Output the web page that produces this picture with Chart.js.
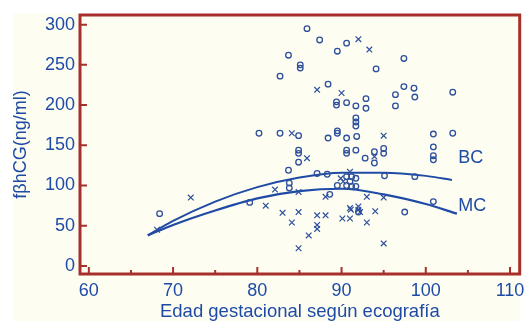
<!DOCTYPE html>
<html>
<head>
<meta charset="utf-8">
<script src="https://cdn.jsdelivr.net/npm/chart.js@4"></script>
<style>
  html, body { margin: 0; padding: 0; background: #ffffff; overflow: hidden; }
  #wrap { width: 525px; height: 321px; }
</style>
</head>
<body>
<div id="wrap"><canvas id="scatterChart"></canvas></div>
<script>
// data
var circX = [85.9, 87.4, 90.6, 89.5, 83.7, 85.1, 85.1, 82.7, 88.4, 89.4, 89.4, 90.6, 91.7, 92.9, 92.9,
  91.7, 91.7, 91.7, 94.1, 97.4, 97.4, 98.6, 98.7, 96.4, 96.4, 103.2, 80.2, 82.7, 84.9, 88.4,
  89.5, 89.5, 90.6, 91.8, 100.9, 103.2, 100.9, 100.9, 100.9, 90.6, 90.6, 91.7, 92.8, 93.9, 93.9,
  95.0, 95.0, 95.1, 98.7, 97.5, 100.9, 84.9, 84.9, 84.9, 83.7, 87.1, 88.3, 90.6, 91.2, 91.7,
  89.5, 90.6, 91.2, 91.7, 91.0, 83.8, 83.8, 88.6, 79.1, 92.0, 68.4];
var circY = [295, 281, 277, 267, 262, 250, 246, 236, 226, 204, 200, 203, 199, 208, 196,
  184, 179, 174, 245, 258, 223, 221, 210, 213, 199, 216, 165, 165, 162, 159,
  165, 168, 159, 161, 164, 165, 148, 137, 132, 144, 140, 144, 134, 142, 128,
  146, 140, 112, 111, 67, 80, 144, 140, 129, 119, 115, 114, 111, 111, 109,
  100, 100, 99, 99, 105, 103, 97, 89, 79, 67, 65];

var crossX = [92.0, 93.3, 87.1, 90.0, 84.1, 95.0, 85.9, 93.9, 89.9, 91.0, 90.2, 82.1, 84.9, 88.1,
  81.0, 83.0, 84.9, 87.1, 88.1, 84.1, 87.1, 87.1, 86.1, 84.9, 90.1, 91.0, 91.0, 92.0, 92.2,
  93.0, 95.0, 94.0, 93.0, 95.0, 72.1, 68.1, 91.1, 92.0];
var crossY = [282, 269, 219, 215, 165, 162, 134, 136, 109, 117, 105, 95, 92, 86,
  75, 66, 67, 63, 63, 54, 51, 46, 38, 22, 59, 59, 72, 74, 67,
  86, 85, 68, 54, 28, 85, 45, 70, 70];

// fitted curves, points
var bcX = [67, 70, 75, 80, 85, 90, 95, 100, 103.1];
var bcY = [38, 56, 80, 98, 110, 116, 116, 112, 107];
var mcX = [67, 70, 75, 80, 85, 90, 95, 100, 103.7];
var mcY = [38, 51, 69, 84, 93, 96, 89, 77, 65];

var curveLabels = ['BC', 'MC'];
var curveLabelX = [103.85, 103.85];
var curveLabelY = [134, 74];

var xTicks = [60, 70, 80, 90, 100, 110];
var xMinorTicks = [65, 75, 85, 95, 105];
var yTicks = [0, 50, 100, 150, 200, 250, 300];

var blue = '#1f4ba6';
var markBlue = '#2d4f9c';
var frameRed = '#a8302c';
var cream = '#fdfdf1';

function pts(xs, ys) {
  return xs.map(function (x, i) { return { x: x, y: ys[i] }; });
}

var framePlugin = {
  id: 'frame',
  beforeDraw: function (chart) {
    var c = chart.ctx;
    c.save();
    c.fillStyle = '#ffffff';
    c.fillRect(0, 0, chart.width, chart.height);
    c.fillStyle = cream;
    c.fillRect(13, 13, chart.chartArea.right - 13, chart.height - 13);
    c.restore();
  },
  afterDraw: function (chart) {
    var c = chart.ctx, a = chart.chartArea;
    var xs = chart.scales.x, ys = chart.scales.y;
    c.save();
    c.strokeStyle = frameRed;
    c.lineWidth = 2;
    // inward ticks
    c.beginPath();
    yTicks.forEach(function (v) {
      var p = ys.getPixelForValue(v);
      c.moveTo(a.left, p); c.lineTo(a.left + 7, p);
    });
    xTicks.forEach(function (v) {
      var p = xs.getPixelForValue(v);
      c.moveTo(p, a.bottom); c.lineTo(p, a.bottom - 7);
    });
    xMinorTicks.forEach(function (v) {
      var p = xs.getPixelForValue(v);
      c.moveTo(p, a.bottom); c.lineTo(p, a.bottom - 4);
    });
    c.stroke();
    c.lineWidth = 3;
    c.strokeRect(a.left, a.top, a.right - a.left, a.bottom - a.top);
    // curve labels
    c.fillStyle = blue;
    c.font = '18px "Liberation Sans", Arial, sans-serif';
    c.textBaseline = 'middle';
    c.textAlign = 'left';
    curveLabels.forEach(function (t, i) {
      c.fillText(t, xs.getPixelForValue(curveLabelX[i]), ys.getPixelForValue(curveLabelY[i]));
    });
    c.restore();
  }
};

var tickFont = { family: '"Liberation Sans", Arial, sans-serif', size: 18 };

var ctx = document.getElementById('scatterChart').getContext('2d');
var chart = new Chart(ctx, {
  type: 'scatter',
  data: {
    datasets: [{
      label: 'o',
      data: pts(circX, circY),
      pointStyle: 'circle',
      pointRadius: 2.8,
      borderColor: markBlue,
      backgroundColor: 'rgba(0,0,0,0)',
      borderWidth: 1.3
    }, {
      label: 'x',
      data: pts(crossX, crossY),
      pointStyle: 'crossRot',
      pointRadius: 4,
      borderColor: markBlue,
      borderWidth: 1.2
    }, {
      label: 'BC',
      data: pts(bcX, bcY),
      showLine: true,
      cubicInterpolationMode: 'monotone',
      pointRadius: 0,
      borderColor: blue,
      borderWidth: 2
    }, {
      label: 'MC',
      data: pts(mcX, mcY),
      showLine: true,
      cubicInterpolationMode: 'monotone',
      pointRadius: 0,
      borderColor: blue,
      borderWidth: 2.2
    }]
  },
  options: {
    responsive: true,
    maintainAspectRatio: false,
    animation: false,
    layout: { padding: { top: 15, right: 3, left: 0, bottom: 0 } },
    plugins: { legend: { display: false }, tooltip: { enabled: false } },
    scales: {
      x: {
        type: 'linear',
        min: 58.95,
        max: 111.15,
        afterBuildTicks: function (s) { s.ticks = xTicks.map(function (v) { return { value: v }; }); },
        afterFit: function (s) { s.height = 47; s.paddingLeft = 0; s.paddingRight = 0; },
        grid: { display: false, drawTicks: false },
        border: { display: false },
        ticks: { color: blue, font: tickFont, padding: 6, maxRotation: 0 },
        title: {
          display: true,
          text: 'Edad gestacional según ecografía',
          color: blue,
          font: { family: '"Liberation Sans", Arial, sans-serif', size: 18.5 },
          padding: { top: 0, bottom: -2 }
        }
      },
      y: {
        type: 'linear',
        min: -10,
        max: 312,
        afterBuildTicks: function (s) { s.ticks = yTicks.map(function (v) { return { value: v }; }); },
        afterFit: function (s) { s.width = 80; s.paddingTop = 0; s.paddingBottom = 0; },
        grid: { display: false, drawTicks: false },
        border: { display: false },
        ticks: { color: blue, font: tickFont, padding: 5 },
        title: {
          display: true,
          text: 'fβhCG(ng/ml)',
          color: blue,
          font: tickFont,
          padding: { top: 10, bottom: 0 }
        }
      }
    }
  },
  plugins: [framePlugin]
});
</script>
</body>
</html>
